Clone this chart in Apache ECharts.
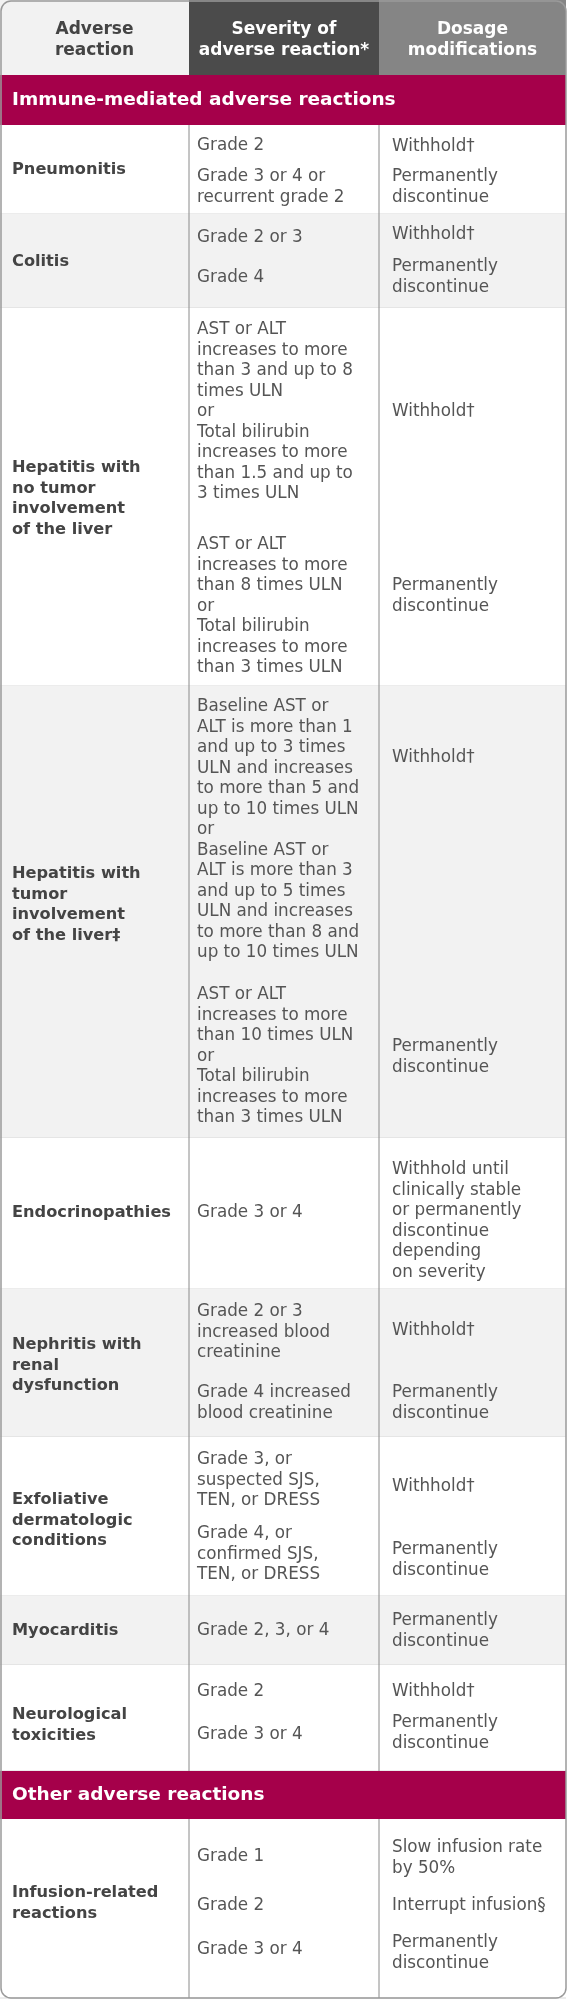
<!DOCTYPE html>
<html>
<head>
<meta charset="utf-8">
<script src="https://cdn.jsdelivr.net/npm/echarts@6/dist/echarts.min.js"></script>
<style>
  body { margin: 0; background: #fff; }
  #main { width: 568px; height: 2000px; }
</style>
</head>
<body>
<div id="main"></div>
<script>
// column edges and headers
const colEdges = [0, 189, 379, 566];
const headers = [['Adverse', 'reaction'], ['Severity of', 'adverse reaction*'], ['Dosage', 'modifications']];
const headerColors = ['#f2f2f2', '#4b4b4b', '#858585'];

// section bands: [label, top, bottom]
const sections = [
  ['Immune-mediated adverse reactions', 75, 125],
  ['Other adverse reactions', 1771, 1819]
];

// rows: [top, bottom, shaded]
const rows = [
  [125, 214, false], [214, 308, true], [308, 686, false], [686, 1138, true],
  [1138, 1289, false], [1289, 1437, true], [1437, 1596, false], [1596, 1665, true],
  [1665, 1771, false], [1819, 1998, false]
];

// reaction names: [first line y, lines]
const reactions = [
  [170, ['Pneumonitis']],
  [262, ['Colitis']],
  [468, ['Hepatitis with', 'no tumor', 'involvement', 'of the liver']],
  [874, ['Hepatitis with', 'tumor', 'involvement', 'of the liver\u2021']],
  [1213, ['Endocrinopathies']],
  [1345, ['Nephritis with', 'renal', 'dysfunction']],
  [1500, ['Exfoliative', 'dermatologic', 'conditions']],
  [1631, ['Myocarditis']],
  [1715, ['Neurological', 'toxicities']],
  [1893, ['Infusion-related', 'reactions']]
];

// severity blocks: [first line y, lines]
const severity = [
  [146, ['Grade 2']],
  [177, ['Grade 3 or 4 or', 'recurrent grade 2']],
  [238, ['Grade 2 or 3']],
  [278, ['Grade 4']],
  [330, ['AST or ALT', 'increases to more', 'than 3 and up to 8', 'times ULN', 'or', 'Total bilirubin', 'increases to more', 'than 1.5 and up to', '3 times ULN']],
  [545, ['AST or ALT', 'increases to more', 'than 8 times ULN', 'or', 'Total bilirubin', 'increases to more', 'than 3 times ULN']],
  [707, ['Baseline AST or', 'ALT is more than 1', 'and up to 3 times', 'ULN and increases', 'to more than 5 and', 'up to 10 times ULN', 'or', 'Baseline AST or', 'ALT is more than 3', 'and up to 5 times', 'ULN and increases', 'to more than 8 and', 'up to 10 times ULN']],
  [995, ['AST or ALT', 'increases to more', 'than 10 times ULN', 'or', 'Total bilirubin', 'increases to more', 'than 3 times ULN']],
  [1213, ['Grade 3 or 4']],
  [1312, ['Grade 2 or 3', 'increased blood', 'creatinine']],
  [1393, ['Grade 4 increased', 'blood creatinine']],
  [1460, ['Grade 3, or', 'suspected SJS,', 'TEN, or DRESS']],
  [1534, ['Grade 4, or', 'confirmed SJS,', 'TEN, or DRESS']],
  [1631, ['Grade 2, 3, or 4']],
  [1692, ['Grade 2']],
  [1735, ['Grade 3 or 4']],
  [1857, ['Grade 1']],
  [1906, ['Grade 2']],
  [1950, ['Grade 3 or 4']]
];

// dosage blocks: [first line y, lines]
const dosage = [
  [147, ['Withhold\u2020']],
  [177, ['Permanently', 'discontinue']],
  [235, ['Withhold\u2020']],
  [267, ['Permanently', 'discontinue']],
  [412, ['Withhold\u2020']],
  [586, ['Permanently', 'discontinue']],
  [758, ['Withhold\u2020']],
  [1047, ['Permanently', 'discontinue']],
  [1170, ['Withhold until', 'clinically stable', 'or permanently', 'discontinue', 'depending', 'on severity']],
  [1331, ['Withhold\u2020']],
  [1393, ['Permanently', 'discontinue']],
  [1487, ['Withhold\u2020']],
  [1550, ['Permanently', 'discontinue']],
  [1621, ['Permanently', 'discontinue']],
  [1692, ['Withhold\u2020']],
  [1723, ['Permanently', 'discontinue']],
  [1848, ['Slow infusion rate', 'by 50%']],
  [1906, ['Interrupt infusion\u00a7']],
  [1943, ['Permanently', 'discontinue']]
];

const lineH = 20.5;
const font = '"DejaVu Sans", sans-serif';
const chart = echarts.init(document.getElementById('main'));
const els = [];

function textLines(x, y0, lines, opts) {
  lines.forEach((t, i) => {
    els.push({
      type: 'text', x: x, y: y0 + i * lineH, z: 5,
      style: Object.assign({ text: t, fontFamily: font, fontSize: 16.8, fill: '#555', verticalAlign: 'middle' }, opts)
    });
  });
}

// header cells
headers.forEach((h, i) => {
  els.push({ type: 'rect', shape: { x: colEdges[i], y: 0, width: colEdges[i + 1] - colEdges[i], height: 75 }, style: { fill: headerColors[i] } });
  textLines((colEdges[i] + colEdges[i + 1]) / 2, 30, h, { align: 'center', fontWeight: 'bold', fontSize: 17, fill: i === 0 ? '#444' : '#fff' });
});

rows.forEach(r => {
  els.push({ type: 'rect', shape: { x: 0, y: r[0], width: 566, height: r[1] - r[0] }, style: { fill: r[2] ? '#f2f2f2' : '#fff' } });
  els.push({ type: 'line', shape: { x1: 0, y1: r[1], x2: 566, y2: r[1] }, style: { stroke: '#d8d8d8', lineWidth: 1 } });
  [colEdges[1], colEdges[2]].forEach(x => {
    els.push({ type: 'line', shape: { x1: x, y1: r[0], x2: x, y2: r[1] }, style: { stroke: '#8a8a8a', lineWidth: 1 }, z: 2 });
  });
});

sections.forEach(s => {
  els.push({ type: 'rect', shape: { x: 0, y: s[1], width: 566, height: s[2] - s[1] }, style: { fill: '#a5004a' }, z: 3 });
  textLines(12, (s[1] + s[2]) / 2, [s[0]], { fill: '#fff', fontWeight: 'bold', fontSize: 18.5 });
});

reactions.forEach(r => textLines(12, r[0], r[1], { fontWeight: 'bold', fill: '#444', fontSize: 16.2 }));
severity.forEach(s => textLines(197, s[0], s[1]));
dosage.forEach(d => textLines(392, d[0], d[1]));

// outer border with rounded corners
els.push({ type: 'rect', shape: { x: 1, y: 1, width: 565, height: 1997, r: 10 }, style: { fill: null, stroke: '#9a9a9a', lineWidth: 1.5 }, z: 10 });

chart.setOption({ animation: false, graphic: els });
</script>
</body>
</html>
